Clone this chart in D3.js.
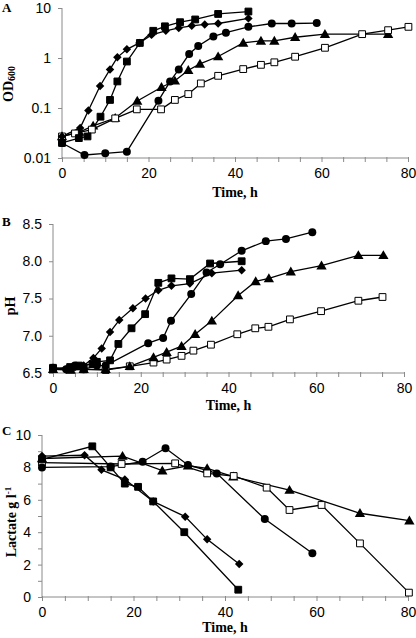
<!DOCTYPE html>
<html><head><meta charset="utf-8">
<script src="https://cdn.jsdelivr.net/npm/d3@7"></script>
<style>body{margin:0;background:#fff}svg{display:block}</style></head>
<body>
<script>
// ---------- DATA ----------
// Panel A: OD600 (log scale)
const odDiamondT = [0, 4.2, 6.1, 8.8, 11.1, 12.8, 15, 17.9, 20.7, 24, 27, 30, 33, 36.1, 43.1];
const odDiamondV = [0.027, 0.04, 0.089, 0.275, 0.59, 1.03, 1.49, 2.0, 2.9, 3.5, 4.0, 4.4, 4.7, 4.9, 6.2];
const odSquareT = [0, 3.9, 5.9, 8.9, 11.1, 12.8, 15, 18, 21.1, 23.8, 27.3, 30.8, 36.1, 43.1];
const odSquareV = [0.02, 0.025, 0.027, 0.067, 0.145, 0.34, 0.85, 2.0, 3.5, 4.3, 5.2, 5.9, 7.6, 8.5];
const odCircleT = [0, 5.2, 10, 15, 22.3, 25, 27, 29.4, 31.5, 35, 37.9, 43.1, 48.5, 53.1, 58.9];
const odCircleV = [0.02, 0.0115, 0.0124, 0.0134, 0.14, 0.34, 0.59, 1.2, 1.74, 2.7, 3.2, 4.2, 4.9, 4.9, 5.0];
const odTriangleT = [0, 4, 7.2, 12.3, 17.4, 23, 26.1, 29.2, 31.9, 36.1, 41.9, 46, 49.1, 53.9, 60.8, 75.4];
const odTriangleV = [0.027, 0.033, 0.044, 0.063, 0.138, 0.26, 0.35, 0.57, 0.76, 1.07, 2.0, 2.2, 2.2, 2.6, 3.0, 3.0];
const odOpenT = [0, 3, 6.9, 12.3, 17.3, 22.9, 26.1, 29.2, 32.1, 36.1, 41.9, 46, 49.1, 53.9, 60.8, 69.4, 75.4, 80.1];
const odOpenV = [0.027, 0.031, 0.037, 0.062, 0.094, 0.094, 0.145, 0.19, 0.31, 0.44, 0.6, 0.73, 0.82, 1.06, 1.6, 3.0, 3.6, 4.2];

// Panel B: pH
const phDiamondT = [0, 3, 5, 7, 9.2, 11.1, 13, 15.1, 18.2, 21.1, 24, 27, 31.2, 36.2, 43];
const phDiamondV = [6.55, 6.55, 6.58, 6.6, 6.7, 6.83, 7.05, 7.21, 7.37, 7.5, 7.61, 7.67, 7.7, 7.84, 7.88];
const phSquareT = [0, 3.9, 5.9, 9, 10, 13, 14.9, 17.9, 21, 24, 27, 31.2, 35.8, 43];
const phSquareV = [6.56, 6.58, 6.6, 6.62, 6.65, 6.67, 6.89, 7.1, 7.29, 7.71, 7.77, 7.76, 7.97, 8.0];
const phCircleT = [0, 3, 5, 7, 10, 12, 21.7, 25.1, 26.9, 31.5, 35, 38.1, 43, 48.5, 53.1, 59.1];
const phCircleV = [6.57, 6.55, 6.6, 6.55, 6.6, 6.6, 6.9, 6.97, 7.2, 7.56, 7.85, 7.96, 8.14, 8.27, 8.3, 8.39];
const phTriangleT = [0, 4, 7, 12, 17.5, 22.9, 25.9, 29.3, 32.4, 36.2, 42.2, 46.2, 49.2, 54.2, 61.2, 69.6, 75.3];
const phTriangleV = [6.55, 6.54, 6.55, 6.55, 6.59, 6.71, 6.78, 6.86, 7.02, 7.2, 7.54, 7.73, 7.77, 7.86, 7.94, 8.08, 8.08];
const phOpenT = [0, 4, 7, 12, 17.5, 22.9, 25.9, 29.3, 32, 36, 42, 46.1, 49.1, 54, 61.1, 69.6, 75.1];
const phOpenV = [6.57, 6.55, 6.55, 6.54, 6.59, 6.64, 6.68, 6.73, 6.8, 6.88, 7.02, 7.1, 7.12, 7.22, 7.33, 7.47, 7.52];

// Panel C: Lactate g l-1
const laSquareT = [0, 11, 15, 18.1, 21, 24.3, 31.1, 42.9];
const laSquareV = [8.5, 9.3, 8.0, 7.0, 6.8, 5.9, 4.0, 0.45];
const laDiamondT = [0, 9.3, 13, 18.1, 24.3, 31.3, 36.1, 43.1];
const laDiamondV = [8.7, 8.75, 7.85, 7.26, 5.9, 4.96, 3.56, 2.04];
const laCircleT = [0, 15, 22, 27, 31.9, 38.2, 48.7, 59.1];
const laCircleV = [8.0, 8.05, 8.35, 9.18, 8.15, 7.63, 4.81, 2.70];
const laTriangleT = [0, 17.6, 26.3, 31.9, 36.1, 41.8, 54.1, 69.5, 80.3];
const laTriangleV = [8.55, 8.7, 7.8, 8.1, 7.94, 7.43, 6.6, 5.17, 4.71];
const laOpenT = [0, 17.4, 29.1, 36.1, 41.9, 49.1, 54.1, 61.1, 69.5, 80.2];
const laOpenV = [8.3, 8.21, 8.25, 7.63, 7.47, 6.75, 5.37, 5.68, 3.31, 0.27];

const xTicksLabels = [0, 20, 40, 60, 80];
const odTicks = [0.01, 0.1, 1, 10];
const phTicks = [6.5, 7.0, 7.5, 8.0, 8.5];
const laTicks = [0, 2, 4, 6, 8, 10];

// ---------- DRAW ----------
const W = 416, H = 638;
const svg = d3.select("body").append("svg").attr("width", W).attr("height", H)
  .style("font-family", "'Liberation Serif','Times New Roman',serif");

const AX = "#8a8a8a";
const zip = (t, v) => t.map((d, i) => ({t: d, v: v[i]}));

function marker(g, kind, pts, x, y) {
  const sel = g.selectAll(null).data(pts).enter();
  const tr = d => `translate(${x(d.t)},${y(d.v)})`;
  if (kind === "square" || kind === "open") {
    sel.append("path").attr("d", d3.symbol(d3.symbolSquare, 46)())
      .attr("transform", tr)
      .attr("fill", kind === "open" ? "#fff" : "#000")
      .attr("stroke", "#000").attr("stroke-width", 1);
  } else if (kind === "diamond") {
    sel.append("path").attr("d", d3.symbol(d3.symbolSquare, 36)())
      .attr("transform", d => tr(d) + " rotate(45)").attr("fill", "#000");
  } else if (kind === "circle") {
    sel.append("path").attr("d", d3.symbol(d3.symbolCircle, 50)())
      .attr("transform", tr).attr("fill", "#000");
  } else if (kind === "triangle") {
    sel.append("path").attr("d", d3.symbol(d3.symbolTriangle, 46)())
      .attr("transform", d => tr(d) + " translate(0,0.8)").attr("fill", "#000");
  }
}

function panel(cfg) {
  const g = svg.append("g");
  const x = d3.scaleLinear().domain([0, 80]).range([cfg.x0, cfg.x1]);
  const y = cfg.y;
  // x axis
  const xa = g.append("g").attr("transform", `translate(0,${cfg.yb})`)
    .call(d3.axisBottom(x).tickValues(d3.range(0, 81, 5)).tickSize(4).tickFormat(d => xTicksLabels.includes(d) ? d : ""));
  xa.select(".domain").attr("stroke", AX).attr("d", `M${cfg.x0},0H${cfg.x1}`);
  xa.selectAll(".tick line").attr("stroke", AX).attr("y1", -1);
  xa.selectAll(".tick text").attr("font-size", 14).attr("fill", "#000").attr("dy", "0.85em").attr("y", 8);
  // y axis
  const ya = g.append("g").attr("transform", `translate(${cfg.x0},0)`)
    .call(d3.axisLeft(y).tickValues(cfg.yTicks).tickSize(4).tickFormat(cfg.fmt));
  ya.select(".domain").attr("stroke", AX).attr("d", `M0,${y.range()[0]}V${y.range()[1]}`);
  ya.selectAll(".tick line").attr("stroke", AX);
  ya.selectAll(".tick text").attr("font-size", 14).attr("fill", "#000").attr("x", -11);
  if (cfg.minor) {
    g.append("g").attr("transform", `translate(${cfg.x0},0)`)
      .call(d3.axisLeft(y).tickValues(cfg.minor).tickSize(4).tickFormat(""))
      .call(s => { s.select(".domain").remove(); s.selectAll("line").attr("stroke", AX); });
  }
  // series
  const line = d3.line().x(d => x(d.t)).y(d => y(d.v));
  cfg.series.forEach(s => {
    g.append("path").datum(zip(s.t, s.v)).attr("d", line)
      .attr("fill", "none").attr("stroke", "#000").attr("stroke-width", 1.3);
  });
  cfg.series.forEach(s => marker(g, s.kind, zip(s.t, s.v), x, y));
  // titles
  g.append("text").attr("x", (cfg.x0 + cfg.x1) / 2).attr("y", cfg.xtY)
    .attr("text-anchor", "middle").attr("font-size", 14).attr("font-weight", "bold").text("Time, h");
  const yt = g.append("text").attr("transform", `translate(${cfg.ytX},${cfg.ytY}) rotate(-90)`)
    .attr("text-anchor", "middle").attr("font-size", 14).attr("font-weight", "bold");
  cfg.ytitle(yt);
  g.append("text").attr("x", 2).attr("y", cfg.letterY).attr("font-size", 13)
    .attr("font-weight", "bold").text(cfg.letter);
}

panel({
  x0: 62, x1: 408, yb: 158,
  y: d3.scaleLog().domain([0.01, 10]).range([158, 8]),
  yTicks: odTicks, fmt: d => d,
  series: [
    {kind: "circle", t: odCircleT, v: odCircleV},
    {kind: "triangle", t: odTriangleT, v: odTriangleV},
    {kind: "open", t: odOpenT, v: odOpenV},
    {kind: "square", t: odSquareT, v: odSquareV},
    {kind: "diamond", t: odDiamondT, v: odDiamondV}
  ],
  xtY: 197, ytX: 13, ytY: 84, letter: "A", letterY: 12,
  ytitle: t => { t.append("tspan").text("OD"); t.append("tspan").attr("font-size", 10).attr("dy", 2).text("600"); }
});

panel({
  x0: 53, x1: 404, yb: 373,
  y: d3.scaleLinear().domain([6.5, 8.5]).range([373, 224]),
  yTicks: phTicks, fmt: d3.format(".1f"),
  series: [
    {kind: "open", t: phOpenT, v: phOpenV},
    {kind: "triangle", t: phTriangleT, v: phTriangleV},
    {kind: "circle", t: phCircleT, v: phCircleV},
    {kind: "square", t: phSquareT, v: phSquareV},
    {kind: "diamond", t: phDiamondT, v: phDiamondV}
  ],
  xtY: 410, ytX: 15, ytY: 306, letter: "B", letterY: 226,
  ytitle: t => t.text("pH")
});

panel({
  x0: 42, x1: 408, yb: 597,
  y: d3.scaleLinear().domain([0, 10]).range([597, 435]),
  yTicks: laTicks, fmt: d => d, minor: [1, 3, 5, 7, 9],
  series: [
    {kind: "triangle", t: laTriangleT, v: laTriangleV},
    {kind: "open", t: laOpenT, v: laOpenV},
    {kind: "circle", t: laCircleT, v: laCircleV},
    {kind: "diamond", t: laDiamondT, v: laDiamondV},
    {kind: "square", t: laSquareT, v: laSquareV}
  ],
  xtY: 632, ytX: 16, ytY: 522, letter: "C", letterY: 435,
  ytitle: t => { t.append("tspan").text("Lactate g l"); t.append("tspan").attr("font-size", 9).attr("dy", -5).text("-1"); }
});
</script>
</body></html>
